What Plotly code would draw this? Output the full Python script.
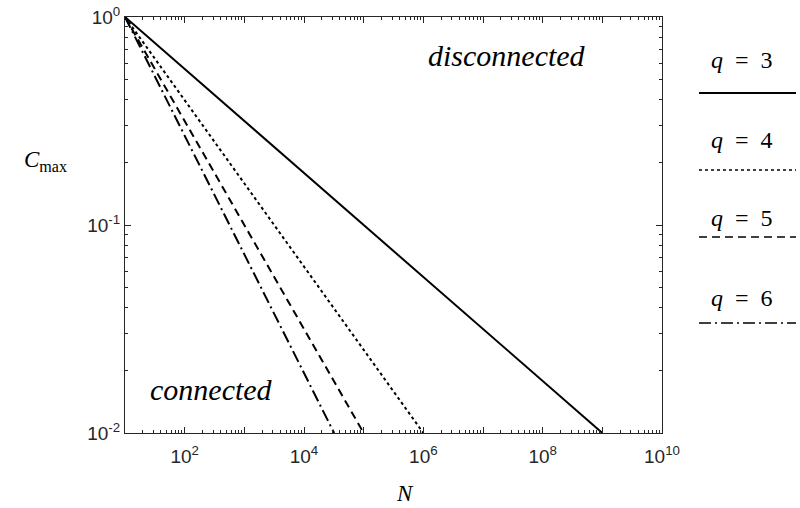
import plotly.graph_objects as go

# critical C_max vs N (straight lines on log-log axes)
q_values = [3, 4, 5, 6]
n_start = [10, 10, 10, 10]
n_end = [1e9, 1e6, 1e5, 3.2e4]
c_start = [1.0, 1.0, 1.0, 1.0]
c_end = [0.01, 0.01, 0.01, 0.01]
dashes = ["solid", "3px,3px", "8px,5px", "12px,4px,2px,4px"]

x_major = [10 ** k for k in range(1, 11)]
x_labels = ["" if k % 2 else "10<sup>%d</sup>" % k for k in range(1, 11)]
y_major = [0.01, 0.1, 1]
y_labels = ["10<sup>-2</sup>", "10<sup>-1</sup>", "10<sup>0</sup>"]

x_minor = [m * 10 ** k for k in range(1, 10) for m in range(2, 10)]
y_minor = [m * 10 ** k for k in (-2, -1) for m in range(2, 10)]

W, H = 800, 508
L, R, T, B = 125, 138, 17, 75
pw, ph = W - L - R, H - T - B


def px(x):
    return (x - L) / pw


def py(y):
    return 1 - (y - T) / ph


fig = go.Figure()
for q, x0, x1, y0, y1, d in zip(q_values, n_start, n_end, c_start, c_end, dashes):
    fig.add_trace(go.Scatter(
        x=[x0, x1], y=[y0, y1], mode="lines",
        line=dict(color="black", width=2, dash=d),
        name="q = %d" % q, showlegend=False,
    ))

tick_font = dict(family="Liberation Sans, Arial", size=19, color="#262626")
minor_style = dict(ticks="inside", ticklen=3, tickcolor="#262626", showgrid=False)

fig.update_layout(
    xaxis=dict(
        type="log", range=[1, 10], showgrid=False, zeroline=False, automargin=False,
        showline=True, linecolor="#262626", linewidth=1, mirror="allticks",
        ticks="inside", ticklen=6, tickcolor="#262626", tickfont=tick_font,
        ticklabelstandoff=6,
        tickmode="array", tickvals=x_major, ticktext=x_labels,
        minor=dict(**minor_style, tickmode="array", tickvals=x_minor),
    ),
    yaxis=dict(
        type="log", range=[-2, 0], showgrid=False, zeroline=False, automargin=False,
        showline=True, linecolor="#262626", linewidth=1, mirror="allticks",
        ticks="inside", ticklen=6, tickcolor="#262626", tickfont=tick_font,
        tickmode="array", tickvals=y_major, ticktext=y_labels,
        minor=dict(**minor_style, tickmode="array", tickvals=y_minor),
    ),
)

serif = "Liberation Serif, Times New Roman, serif"
texts = [
    (507, 55, "<i>disconnected</i>", 30),
    (211, 389, "<i>connected</i>", 30),
    (45, 161, "<i>C</i><sub>max</sub>", 23),
    (405, 493, "<i>N</i>", 23),
]
for x, y, t, s in texts:
    fig.add_annotation(x=px(x), y=py(y), xref="paper", yref="paper",
                       xanchor="center", yanchor="middle",
                       text=t, showarrow=False,
                       font=dict(family=serif, size=s, color="black"))

# hand-drawn legend on the right: label above a line sample
leg_text_y = [60, 140, 218, 298]
leg_line_y = [93, 170, 237, 323]
for q, d, ty, ly in zip(q_values, dashes, leg_text_y, leg_line_y):
    fig.add_annotation(x=px(742), y=py(ty), xref="paper", yref="paper",
                       xanchor="center", yanchor="middle",
                       text="<i>q</i>  =  %d" % q, showarrow=False,
                       font=dict(family=serif, size=24, color="black"))
    fig.add_shape(type="line", xref="paper", yref="paper",
                  x0=px(699), x1=px(796), y0=py(ly), y1=py(ly),
                  line=dict(color="black", width=2 if d == "solid" else 1.3, dash=d))

fig.update_layout(
    width=W, height=H,
    margin=dict(l=L, r=R, t=T, b=B),
    paper_bgcolor="white", plot_bgcolor="white",
)
fig.write_html("out.html", config={"displayModeBar": False},
               post_script="document.body.style.margin='0';")
